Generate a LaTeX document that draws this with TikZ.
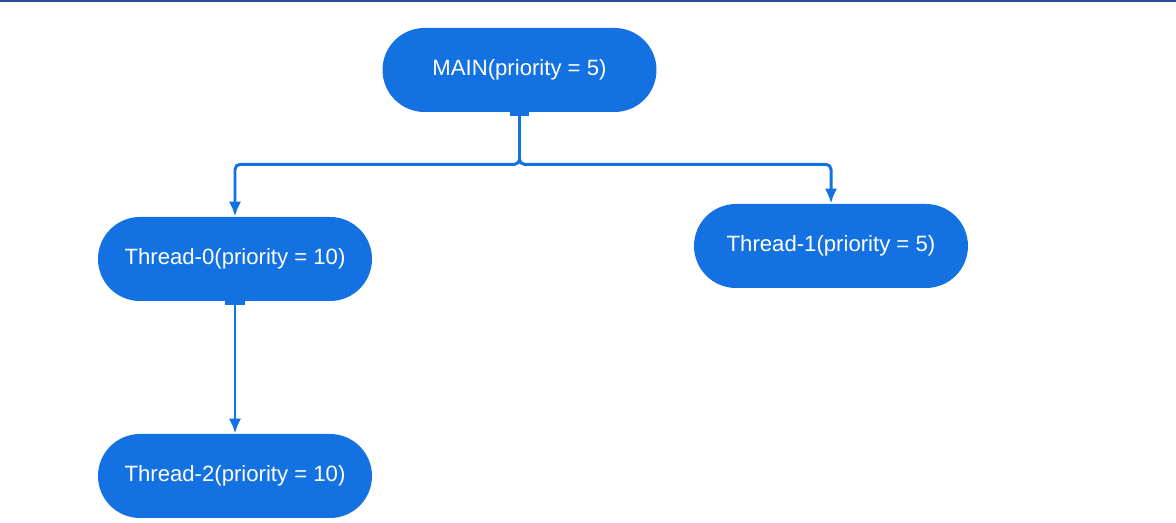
\documentclass[tikz,border=0pt]{standalone}
\usepackage{fontspec}
\setmainfont{Liberation Sans}
\usetikzlibrary{positioning}
\usetikzlibrary{arrows.meta}
\definecolor{lucidblue}{RGB}{20,113,226}
\definecolor{bandblue}{RGB}{44,76,150}

\begin{document}
\begin{tikzpicture}[node distance = 2cm, auto, on grid]
    \tikzstyle{thread} = [rectangle, fill=lucidblue, text=white, font=\fontsize{12.6}{15}\selectfont,
    minimum width=5.48cm, minimum height=1.68cm, rounded corners=0.84cm, inner sep=0pt]
    \tikzstyle{line} = [draw=lucidblue, line width=1.7pt, rounded corners=0.1cm,
    {Bar[width=11pt,line width=1.8pt]}-{Latex[length=8.5pt,width=7pt]}]
    \useasboundingbox (0,0) rectangle (23.52,-10.46);
    \fill [bandblue] (0,0) rectangle (23.52,-0.05);
    \node [thread] (main) at (10.39,-1.40) {MAIN(priority = 5)};
    \node [thread, below left=3.78cm and 5.69cm of main] (thread0) {Thread-0(priority = 10)};
    \node [thread, below right=3.52cm and 6.23cm of main] (thread1) {Thread-1(priority = 5)};
    \node [thread, below=4.34cm of thread0] (thread2) {Thread-2(priority = 10)};
    \coordinate [below=1.04cm of main.south] (split);
    \path [line] (main.south) -- (split) -| (thread0.north);
    \path [line] (main.south) -- (split) -| (thread1.north);
    \path [line] (thread0.south) -- (thread2.north);
\end{tikzpicture}
\end{document}
